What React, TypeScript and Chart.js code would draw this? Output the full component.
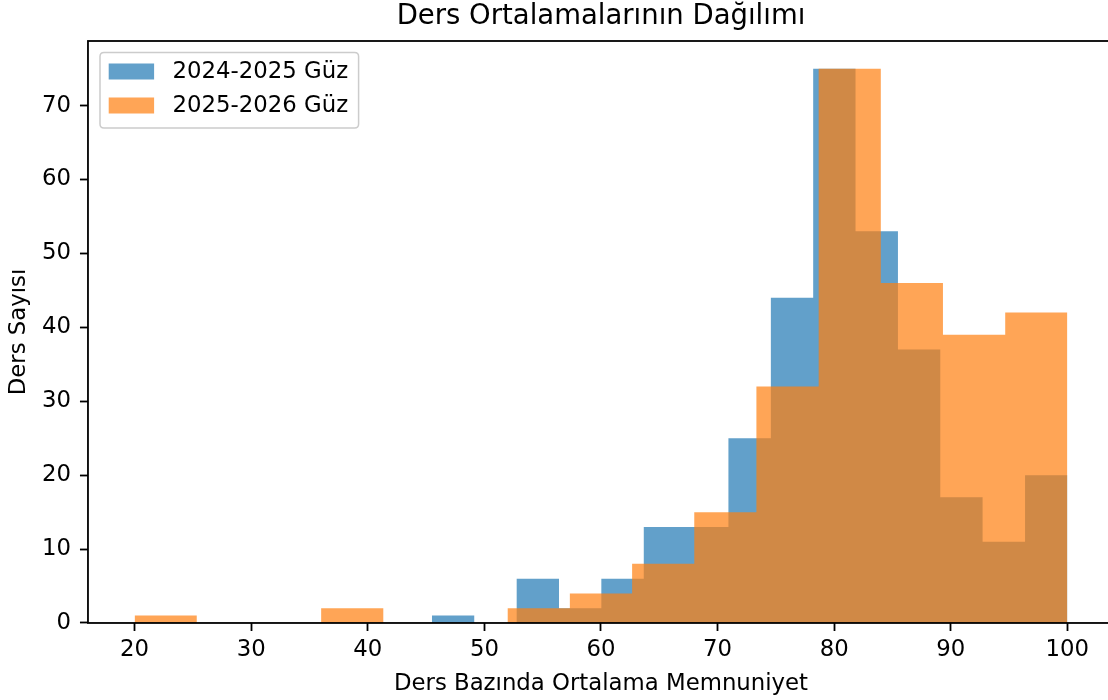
import React, { useEffect, useRef } from "react";
import { Chart, registerables } from "chart.js";

Chart.register(...registerables);

const chartTitle = "Ders Ortalamalarının Dağılımı";
const xAxisTitle = "Ders Bazında Ortalama Memnuniyet";
const yAxisTitle = "Ders Sayısı";
const seriesLabels = ["2024-2025 Güz", "2025-2026 Güz"];

// bin edges and counts
const blueEdges = [45.5, 49.13, 52.77, 56.4, 60.03, 63.67, 67.3, 70.93, 74.57, 78.2, 81.83, 85.47, 89.1, 92.73, 96.37, 100];
const blueCounts = [1, 0, 6, 2, 6, 13, 13, 25, 44, 75, 53, 37, 17, 11, 20];
const orangeEdges = [20, 25.33, 30.67, 36, 41.33, 46.67, 52, 57.33, 62.67, 68, 73.33, 78.67, 84, 89.33, 94.67, 100];
const orangeCounts = [1, 0, 0, 2, 0, 0, 2, 4, 8, 15, 32, 75, 46, 39, 42];

const xTicks = [20, 30, 40, 50, 60, 70, 80, 90, 100];
const yTicks = [0, 10, 20, 30, 40, 50, 60, 70];

const BLUE = "rgba(31,119,180,0.7)";
const ORANGE = "rgba(255,127,14,0.7)";
const FONT = "DejaVu Sans";
const FS = 22.8;

function histPoints(edges: number[], counts: number[]) {
  const pts: { x: number; y: number }[] = [{ x: edges[0], y: 0 }];
  counts.forEach((c, i) => pts.push({ x: edges[i], y: c }));
  pts.push({ x: edges[edges.length - 1], y: 0 });
  return pts;
}

const framePlugin = {
  id: "mplFrameLegend",
  afterDatasetsDraw(chart: any) {
    const { ctx, chartArea } = chart;
    ctx.save();
    // spines
    ctx.strokeStyle = "#000";
    ctx.lineWidth = 1.8;
    ctx.strokeRect(chartArea.left, chartArea.top, chartArea.right - chartArea.left, chartArea.bottom - chartArea.top);
    // legend
    ctx.font = `${FS}px "${FONT}"`;
    const ds = chart.data.datasets;
    const labels = ds.map((d: any) => d.label);
    const maxW = Math.max(...labels.map((l: string) => ctx.measureText(l).width));
    const fx = 100;
    const fy = chartArea.top + 11.5;
    const boxX = fx + 8.7;
    const boxW = 45.4;
    const boxH = 16;
    const textX = boxX + boxW + 18.5;
    const fw = textX - fx + maxW + 10.4;
    const fh = 75.5;
    const r = 4;
    ctx.beginPath();
    ctx.moveTo(fx + r, fy);
    ctx.lineTo(fx + fw - r, fy);
    ctx.quadraticCurveTo(fx + fw, fy, fx + fw, fy + r);
    ctx.lineTo(fx + fw, fy + fh - r);
    ctx.quadraticCurveTo(fx + fw, fy + fh, fx + fw - r, fy + fh);
    ctx.lineTo(fx + r, fy + fh);
    ctx.quadraticCurveTo(fx, fy + fh, fx, fy + fh - r);
    ctx.lineTo(fx, fy + r);
    ctx.quadraticCurveTo(fx, fy, fx + r, fy);
    ctx.closePath();
    ctx.fillStyle = "rgba(255,255,255,0.8)";
    ctx.fill();
    ctx.strokeStyle = "#cccccc";
    ctx.lineWidth = 1.5;
    ctx.stroke();
    ds.forEach((d: any, i: number) => {
      const cy = fy + 19 + i * 34;
      ctx.fillStyle = d.backgroundColor;
      ctx.fillRect(boxX, cy - boxH / 2, boxW, boxH);
      ctx.fillStyle = "#000";
      ctx.textBaseline = "middle";
      ctx.textAlign = "left";
      ctx.fillText(d.label, textX, cy + 0.5);
    });
    ctx.restore();
  },
};

export default function App() {
  const ref = useRef<HTMLCanvasElement>(null);
  useEffect(() => {
    document.body.style.margin = "0";
    Chart.defaults.font.family = FONT;
    Chart.defaults.color = "#000";
    const chart = new Chart(ref.current!, {
      type: "line",
      data: {
        datasets: [
          {
            label: seriesLabels[0],
            data: histPoints(blueEdges, blueCounts),
            backgroundColor: BLUE,
            borderColor: "transparent",
            borderWidth: 0,
            pointRadius: 0,
            stepped: true,
            fill: "origin",
            order: 1,
          },
          {
            label: seriesLabels[1],
            data: histPoints(orangeEdges, orangeCounts),
            backgroundColor: ORANGE,
            borderColor: "transparent",
            borderWidth: 0,
            pointRadius: 0,
            stepped: true,
            fill: "origin",
            order: 0,
          },
        ],
      },
      options: {
        responsive: false,
        animation: false,
        devicePixelRatio: 1,
        events: [],
        layout: { padding: { left: 5.6, right: 6, top: 0, bottom: 0 } },
        plugins: {
          legend: { display: false },
          tooltip: { enabled: false },
          title: {
            display: true,
            text: chartTitle,
            fullSize: false,
            color: "#000",
            font: { family: FONT, size: 27.5, weight: "normal" },
            padding: { top: 0.5, bottom: 7.5 },
          },
        },
        scales: {
          x: {
            type: "linear",
            min: 16,
            max: 104,
            afterBuildTicks: (scale: any) => {
              scale.ticks = xTicks.map((v) => ({ value: v }));
            },
            ticks: { font: { family: FONT, size: FS }, padding: 5.8, color: "#000", maxRotation: 0 },
            grid: { drawOnChartArea: false, drawTicks: true, tickLength: 8, tickWidth: 1.8, tickColor: "#000" },
            border: { display: false },
            title: {
              display: true,
              text: xAxisTitle,
              color: "#000",
              font: { family: FONT, size: FS },
              padding: { top: 0.7, bottom: 2 },
            },
          },
          y: {
            type: "linear",
            min: 0,
            max: 78.75,
            afterBuildTicks: (scale: any) => {
              scale.ticks = yTicks.map((v) => ({ value: v }));
            },
            ticks: { font: { family: FONT, size: FS }, padding: 9, color: "#000" },
            grid: { drawOnChartArea: false, drawTicks: true, tickLength: 8, tickWidth: 1.8, tickColor: "#000" },
            border: { display: false },
            title: {
              display: true,
              text: yAxisTitle,
              color: "#000",
              font: { family: FONT, size: FS },
              padding: { top: 0, bottom: 0 },
            },
          },
        },
      },
      plugins: [framePlugin],
    } as any);
    return () => chart.destroy();
  }, []);
  return (
    <div style={{ width: 1108, height: 700, overflow: "hidden", background: "#fff" }}>
      <canvas ref={ref} width={1120} height={700} style={{ display: "block" }} />
    </div>
  );
}
